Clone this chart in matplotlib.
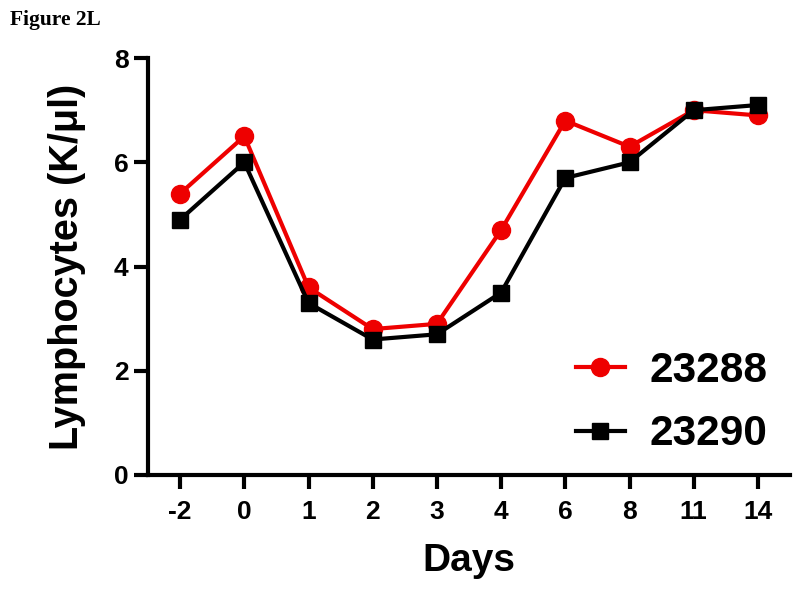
import matplotlib
matplotlib.use("Agg")
import matplotlib.pyplot as plt
from matplotlib import font_manager

days = ["-2", "0", "1", "2", "3", "4", "6", "8", "11", "14"]
vals_23288 = [5.4, 6.5, 3.6, 2.8, 2.9, 4.7, 6.8, 6.3, 7.0, 6.9]
vals_23290 = [4.9, 6.0, 3.3, 2.6, 2.7, 3.5, 5.7, 6.0, 7.0, 7.1]

names = {f.name for f in font_manager.fontManager.ttflist}
narrow = "Liberation Sans Narrow" if "Liberation Sans Narrow" in names else "Liberation Sans"
plt.rcParams["font.family"] = [narrow, "DejaVu Sans"]
plt.rcParams["font.weight"] = "bold"

fig = plt.figure(figsize=(8, 5.93), dpi=100)
ax = fig.add_axes([0.185, 0.199, 0.8025, 0.703])

x = range(len(days))
ax.plot(x, vals_23288, color="#ee0000", marker="o", markersize=13, lw=3, label="23288", clip_on=False)
ax.plot(x, vals_23290, color="black", marker="s", markersize=12, lw=3, label="23290", clip_on=False)

ax.set_xlim(-0.5, 9.5)
ax.set_ylim(0, 8)
ax.set_xticks(list(x))
ax.set_xticklabels(days)
ax.set_yticks([0, 2, 4, 6, 8])

for side in ["top", "right"]:
    ax.spines[side].set_visible(False)
for side in ["left", "bottom"]:
    ax.spines[side].set_linewidth(3)
ax.tick_params(width=3, length=10, labelsize=19, pad=4)
ax.tick_params(axis="x", pad=8)

ax.set_ylabel("Lymphocytes (K/\u03bcl)", fontsize=28.5, fontweight="bold",
              family=["Liberation Sans", "DejaVu Sans"], labelpad=20)
ax.set_xlabel("Days", fontsize=28, fontweight="bold", labelpad=14)

leg = ax.legend(loc="lower right", bbox_to_anchor=(1.025, -0.042), frameon=False,
                prop={"size": 30.5, "weight": "bold"}, handlelength=1.15,
                handletextpad=0.6, labelspacing=0.55, markerscale=1.0)

fig.text(0.013, 0.967, "Figure 2L", fontsize=15.5, fontweight="bold",
         family=["Liberation Serif", "DejaVu Serif"], va="center")

fig.savefig("out.png", dpi=100)
